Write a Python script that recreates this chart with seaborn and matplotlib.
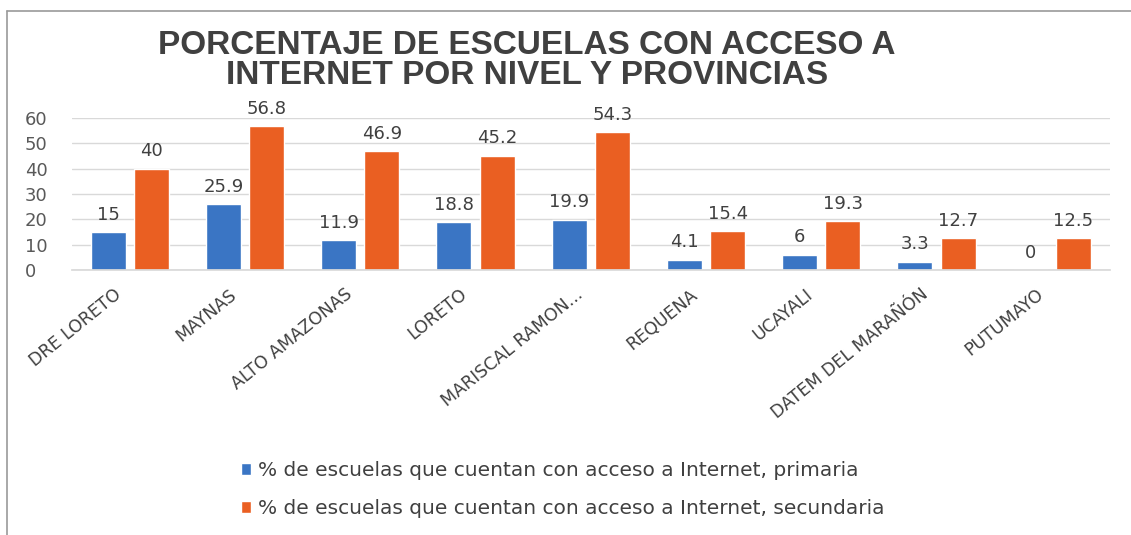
import pandas as pd
import seaborn as sns
import matplotlib.pyplot as plt
import matplotlib.transforms as mtransforms
from matplotlib.lines import Line2D

# chart data
provincias = ['DRE LORETO', 'MAYNAS', 'ALTO AMAZONAS', 'LORETO', 'MARISCAL RAMON...',
              'REQUENA', 'UCAYALI', 'DATEM DEL MARAÑÓN', 'PUTUMAYO']
primaria = [15, 25.9, 11.9, 18.8, 19.9, 4.1, 6, 3.3, 0]
secundaria = [40, 56.8, 46.9, 45.2, 54.3, 15.4, 19.3, 12.7, 12.5]
serie_prim = '% de escuelas que cuentan con acceso a Internet, primaria'
serie_sec = '% de escuelas que cuentan con acceso a Internet, secundaria'

df = pd.DataFrame({'provincia': provincias * 2,
                   'valor': primaria + secundaria,
                   'serie': [serie_prim] * len(provincias) + [serie_sec] * len(provincias)})

sns.set_theme(style='white')
plt.rcParams['font.family'] = ['DejaVu Sans']

fig = plt.figure(figsize=(11.31, 5.35), dpi=100)
ax = fig.add_axes([0.0637, 0.4953, 0.9173, 0.2841])

colores = {serie_prim: '#3A75C4', serie_sec: '#EA5F22'}
sns.barplot(data=df, x='provincia', y='valor', hue='serie', palette=colores,
            width=0.75, gap=0.19, ax=ax, legend=True, saturation=1)

for cont in ax.containers:
    ax.bar_label(cont, fmt='{:g}', padding=6, fontsize=13, color='#404040', clip_on=False)

ax.set_ylim(0, 60)
ax.set_yticks(range(0, 61, 10))
ax.set_xlim(-0.5, len(provincias) - 0.5)
ax.grid(axis='y', color='#d9d9d9', linewidth=1)
ax.set_axisbelow(True)
for s in ['top', 'right', 'left']:
    ax.spines[s].set_visible(False)
ax.spines['bottom'].set_color('#d9d9d9')
ax.set_xlabel('')
ax.set_ylabel('')
ax.tick_params(axis='y', labelsize=13, labelcolor='#595959', length=0, pad=34)
ax.tick_params(axis='x', length=0, pad=11)
shift = mtransforms.ScaledTranslation(-16 / 100, 0, fig.dpi_scale_trans)
for lbl in ax.get_xticklabels():
    lbl.set_rotation(39)
    lbl.set_ha('right')
    lbl.set_va('top')
    lbl.set_rotation_mode('anchor')
    lbl.set_fontsize(12.5)
    lbl.set_color('#404040')
    lbl.set_transform(lbl.get_transform() + shift)
for lbl in ax.get_yticklabels():
    lbl.set_horizontalalignment('left')

fig.text(0.466, 0.887, 'PORCENTAJE DE ESCUELAS CON ACCESO A\nINTERNET POR NIVEL Y PROVINCIAS',
         ha='center', va='center', fontsize=24, fontweight='bold', color='#404040',
         family='Liberation Sans', linespacing=0.95)

ax.legend(loc='upper left', bbox_to_anchor=(0.197, 0.172), bbox_transform=fig.transFigure,
          frameon=False, fontsize=14.5, labelcolor='#404040', handlelength=0.5,
          handleheight=0.5, handletextpad=0.35, labelspacing=0.95)

# chart border
fig.add_artist(Line2D([0.006, 1.0], [0.979, 0.979], color='#9a9a9a', lw=1.2))
fig.add_artist(Line2D([0.006, 0.006], [0.0, 0.979], color='#9a9a9a', lw=1.2))

fig.savefig('out.png', dpi=100)
